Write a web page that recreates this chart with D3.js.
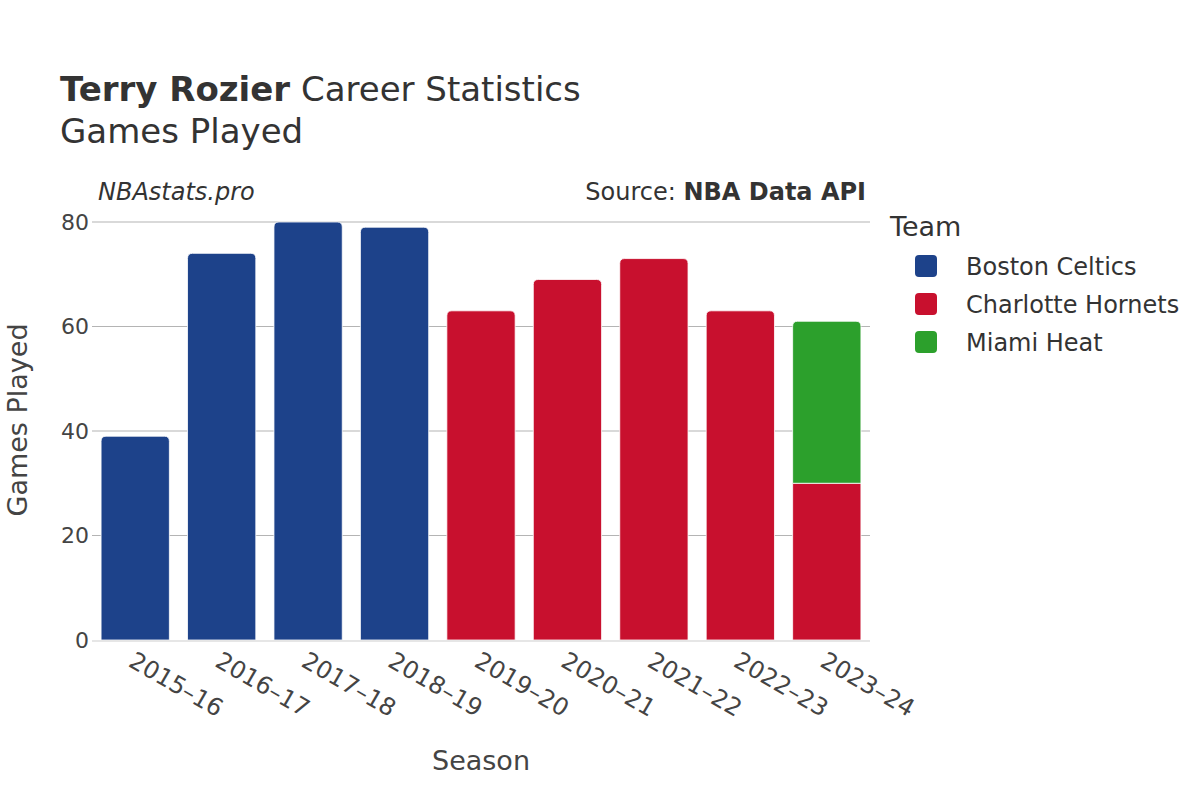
<!DOCTYPE html>
<html><head><meta charset="utf-8">
<script src="https://cdn.jsdelivr.net/npm/d3@7"></script>
<style>body{margin:0;background:#fff;} text{font-family:"DejaVu Sans",sans-serif;}</style>
</head><body><svg id="c" width="1200" height="800"></svg>
<script>
const seasons = ["2015–16","2016–17","2017–18","2018–19","2019–20","2020–21","2021–22","2022–23","2023–24"];
const teams = ["Boston Celtics","Charlotte Hornets","Miami Heat"];
const teamColors = ["#1d428a","#c8102e","#2ca02c"];
const bostonGames = [39,74,80,79,0,0,0,0,0];
const charlotteGames = [0,0,0,0,63,69,73,63,30];
const miamiGames = [0,0,0,0,0,0,0,0,31];
const yTicks = [0,20,40,60,80];

const rows = seasons.map((s,i)=>({season:s,"Boston Celtics":bostonGames[i],"Charlotte Hornets":charlotteGames[i],"Miami Heat":miamiGames[i]}));
const svg = d3.select("#c");
const x = d3.scaleBand().domain(seasons).range([92,870]).paddingInner(0.21).paddingOuter(0.105);
const y = d3.scaleLinear().domain([0,80]).range([640,222]);
const color = d3.scaleOrdinal().domain(teams).range(teamColors);

// grid
svg.append("g").selectAll("line").data(yTicks.filter(d=>d>0)).join("line")
  .attr("x1",92).attr("x2",870).attr("y1",d=>y(d)).attr("y2",d=>y(d))
  .attr("stroke","#b4b4b4").attr("stroke-width",1.2);

const stack = d3.stack().keys(teams)(rows);
const topKey = rows.map(r=>{let k=null; teams.forEach(t=>{if(r[t]>0)k=t;}); return k;});
function barPath(x0,w,yTop,yBot,round){
  const r = round?Math.min(5,(yBot-yTop)/2):0;
  return `M${x0},${yBot}V${yTop+r}Q${x0},${yTop} ${x0+r},${yTop}H${x0+w-r}Q${x0+w},${yTop} ${x0+w},${yTop+r}V${yBot}Z`;
}
stack.forEach(layer=>{
  svg.append("g").selectAll("path").data(layer.filter(d=>d[1]-d[0]>0)).join("path")
    .attr("fill",color(layer.key))
    .attr("stroke","#fff").attr("stroke-width",0.8)
    .attr("d",d=>{
      const i = rows.indexOf(d.data);
      return barPath(x(d.data.season),x.bandwidth(),y(d[1]),y(d[0]),topKey[i]===layer.key);
    });
});
// zero line
svg.append("line").attr("x1",92).attr("x2",870).attr("y1",y(0)+1).attr("y2",y(0)+1)
  .attr("stroke","#e6e6e6").attr("stroke-width",2);

// y ticks
svg.append("g").selectAll("text").data(yTicks).join("text")
  .attr("x",89).attr("y",d=>y(d)).attr("dy","0.36em").attr("text-anchor","end")
  .attr("font-size",22).attr("fill","#444").text(d=>d);
// x ticks
svg.append("g").selectAll("text").data(seasons).join("text")
  .attr("transform",d=>`translate(${x(d)+x.bandwidth()/2+1},${650}) rotate(30)`)
  .attr("dy","0.75em").attr("text-anchor","start")
  .attr("font-size",24).attr("fill","#444").text(d=>d);

// axis titles
svg.append("text").attr("x",481).attr("y",770).attr("text-anchor","middle")
  .attr("font-size",27).attr("fill","#444").text("Season");
svg.append("text").attr("transform","translate(27,420) rotate(-90)").attr("text-anchor","middle")
  .attr("font-size",27).attr("fill","#444").text("Games Played");

// title
const t = svg.append("text").attr("x",60).attr("y",101).attr("font-size",34).attr("fill","#333");
t.append("tspan").attr("font-weight","bold").text("Terry Rozier");
t.append("tspan").text(" Career Statistics");
svg.append("text").attr("x",60).attr("y",143).attr("font-size",34).attr("fill","#333").text("Games Played");

svg.append("text").attr("x",98).attr("y",200).attr("font-size",24).attr("font-style","italic").attr("fill","#333").text("NBAstats.pro");
const src = svg.append("text").attr("x",866).attr("y",200).attr("text-anchor","end").attr("font-size",24).attr("fill","#333");
src.append("tspan").text("Source: ");
src.append("tspan").attr("font-weight","bold").text("NBA Data API");

// legend
svg.append("text").attr("x",890).attr("y",236).attr("font-size",27).attr("fill","#333").text("Team");
const lg = svg.append("g").selectAll("g").data(teams).join("g")
  .attr("transform",(d,i)=>`translate(0,${266+i*38})`);
lg.append("rect").attr("x",915).attr("y",-11).attr("width",22).attr("height",22).attr("rx",4)
  .attr("fill",d=>color(d));
lg.append("text").attr("x",966).attr("y",0).attr("dy","0.36em").attr("font-size",24).attr("fill","#333").text(d=>d);
</script></body></html>
